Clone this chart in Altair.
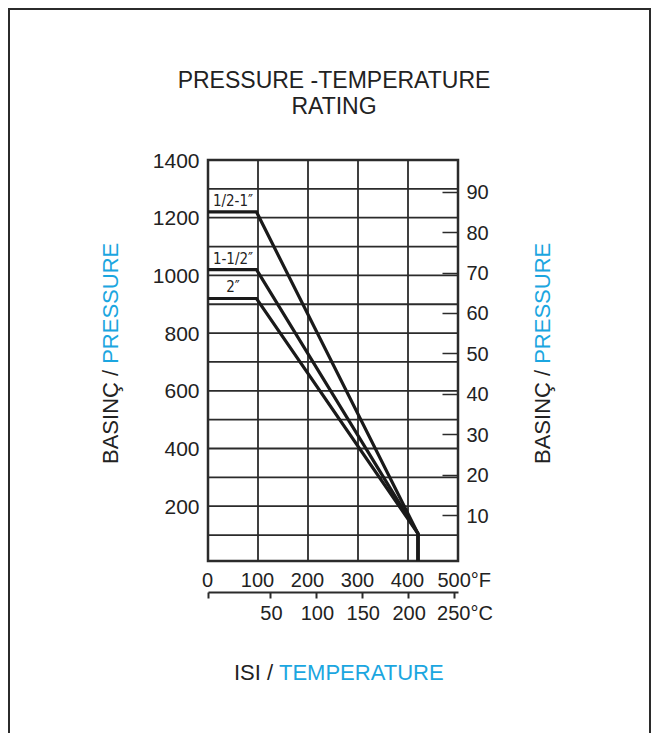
import altair as alt
import pandas as pd

# ---------------- data ----------------
series = ['1/2-1″', '1-1/2″', '2″']
flat_psi = [1220, 1020, 920]          # rated pressure up to the bend
bend_f = [97, 97, 97]                 # end of flat part (°F)
meet_f = [420, 420, 420]              # where all ratings converge (°F)
meet_psi = [105, 105, 105]
floor_psi = [10, 10, 10]              # vertical drop to the bottom
label_f = [50, 50, 50]                # label position along °F

f_grid = [100, 200, 300, 400]
psi_grid = [100, 200, 300, 400, 500, 600, 700, 800, 900, 1000, 1100, 1200, 1300]
psi_labels = [200, 400, 600, 800, 1000, 1200, 1400]
f_labels = [0, 100, 200, 300, 400, 500]
bar_labels = [10, 20, 30, 40, 50, 60, 70, 80, 90]
c_labels = [50, 100, 150, 200, 250]

# ---------------- style ----------------
W, H = 250, 401
FONT = "Liberation Sans, Arial, Helvetica, sans-serif"
TXT = "#222222"
GRID = "#2b2b2b"
LINE = "#1a1a1a"
CYAN = "#1BA6E0"

xF = alt.Scale(domain=[0, 500], nice=False, zero=False)
yP = alt.Scale(domain=[10, 1400], nice=False, zero=False)

# ---------------- tables ----------------
rows = []
for s, fp, bf, mf, mp, fl in zip(series, flat_psi, bend_f, meet_f, meet_psi, floor_psi):
    pts = [(0, fp), (bf, fp), (mf, mp), (mf, fl)]
    for i, (f, p) in enumerate(pts):
        rows.append({'s': s, 'i': i, 'f': f, 'p': p})
lines_df = pd.DataFrame(rows)
labels_df = pd.DataFrame({'s': series, 'f': label_f, 'p': flat_psi})
one = pd.DataFrame({'k': [0]})

# ---------------- layers ----------------
vgrid = alt.Chart(pd.DataFrame({'f': f_grid})).mark_rule(color=GRID, strokeWidth=1.8).encode(
    x=alt.X('f:Q', scale=xF, axis=alt.Axis(
        orient='bottom', values=f_labels, ticks=False, tickSize=0, domain=False,
        labelPadding=9, labelFlush=False, labelOverlap=False, title=None, format='d',
        labelExpr="datum.value == 500 ? '500°F' : datum.label",
        labelAlign={"condition": {"test": "datum.value == 500", "value": "left"}, "value": "center"},
        labelOffset={"condition": {"test": "datum.value == 500", "value": -21}, "value": -1},
    )),
    y=alt.value(0), y2=alt.value(H),
)

hgrid = alt.Chart(pd.DataFrame({'p': psi_grid})).mark_rule(color=GRID, strokeWidth=1.8).encode(
    y=alt.Y('p:Q', scale=yP, axis=alt.Axis(
        orient='left', values=psi_labels, ticks=False, tickSize=0, domain=False,
        labelPadding=9, labelOffset=1, labelOverlap=False, title=None, format='d',
        labelFontSize=21)),
    x=alt.value(0), x2=alt.value(W),
)

lines = alt.Chart(lines_df).mark_line(color=LINE, strokeWidth=3.2).encode(
    x=alt.X('f:Q', scale=xF, axis=None),
    y=alt.Y('p:Q', scale=yP, axis=None),
    detail='s:N',
    order='i:Q',
)

labels = alt.Chart(labels_df).mark_text(
    dy=-11, fontSize=15, color=TXT, baseline='middle', align='center',
    font="DejaVu Sans Condensed, Liberation Sans Narrow, Liberation Sans, sans-serif",
).encode(
    x=alt.X('f:Q', scale=xF, axis=None),
    y=alt.Y('p:Q', scale=yP, axis=None),
    text='s:N',
)

bar_axis = alt.Chart(pd.DataFrame({'b': bar_labels})).mark_point(opacity=0).encode(
    y=alt.Y('b:Q', scale=alt.Scale(domain=[-1.38, 97.84], nice=False, zero=False),
            axis=alt.Axis(orient='right', values=bar_labels, offset=-16, tickSize=16,
                          tickWidth=1.5, domain=False, labelPadding=8, labelOffset=1,
                          labelOverlap=False, title=None)),
    x=alt.value(0),
)

c_axis = alt.Chart(pd.DataFrame({'c': c_labels})).mark_point(opacity=0).encode(
    x=alt.X('c:Q', scale=alt.Scale(domain=[-17.5, 254.8], nice=False, zero=False),
            axis=alt.Axis(
                orient='bottom', values=[-17.5] + c_labels, offset=31, tickSize=6,
                tickWidth=2, domainWidth=2, labelPadding=5, labelFlush=False,
                labelOverlap=False, title=None,
                labelExpr="datum.value < 0 ? '' : (datum.value == 250 ? '250°C' : datum.label)",
                labelAlign={"condition": {"test": "datum.value == 250", "value": "left"}, "value": "center"},
                labelOffset={"condition": {"test": "datum.value == 250", "value": -17}, "value": 1},
            )),
    y=alt.value(0),
)


def txt(s, x, y, color=TXT, size=20, angle=0, align='center'):
    return alt.Chart(one).mark_text(
        text=s, fontSize=size, font=FONT, color=color, angle=angle,
        align=align, baseline='middle',
    ).encode(x=alt.value(x), y=alt.value(y))


title1 = txt('PRESSURE -TEMPERATURE', 126, -79, size=23)
title2 = txt('RATING', 126, -53, size=23)


# side titles (rotated, reading bottom to top): "BASINÇ / " black then "PRESSURE" cyan
def side(x):
    return [
        txt('BASINÇ /', x, 304, angle=270, align='left', size=22),
        txt('PRESSURE', x, 203.8, color=CYAN, angle=270, align='left', size=22),
    ]


bottom_a = txt('ISI /', 65, 513, size=22, align='right')
bottom_b = txt('TEMPERATURE', 71, 513, color=CYAN, size=22, align='left')

border = alt.Chart(one).mark_rect(fill='white', fillOpacity=0, stroke=GRID, strokeWidth=2).encode(
    x=alt.value(-199), x2=alt.value(442), y=alt.value(-151), y2=alt.value(640)
)

chart = alt.layer(
    border, vgrid, hgrid, lines, labels, bar_axis, c_axis,
    title1, title2, *side(-97), *side(335), bottom_a, bottom_b,
).resolve_scale(
    x='independent', y='independent'
).properties(
    width=W, height=H,
    padding={"left": 200, "top": 152, "right": 194, "bottom": 172},
    autosize=alt.AutoSizeParams(type='none'),
    background='white',
).configure_axis(
    grid=False, labelFont=FONT, labelFontSize=20, labelColor=TXT,
    domainColor=GRID, tickColor=GRID,
).configure_view(
    stroke=GRID, strokeWidth=2.5,
)

chart.save("out.html", embed_options={"renderer": "svg", "actions": False})
